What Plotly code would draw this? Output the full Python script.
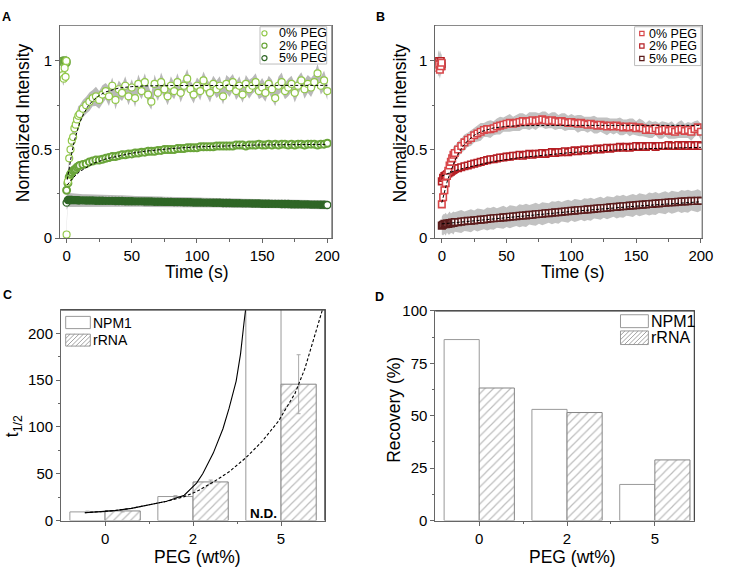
import plotly.graph_objects as go

W, H = 729, 578
FONT = "Arial, Liberation Sans, sans-serif"

# ---------------- Panel A / B : FRAP traces ----------------
t_pre = [-3.0, -2.2, -1.5, -0.8, -0.2]
t_post = [0, 1, 2, 3, 4, 5, 6, 7, 8, 9, 10,
          12.5, 15, 17.5, 20, 22.5, 25, 27.5, 30,
          32.5, 35, 37.5, 40, 42.5, 45, 47.5, 50,
          52.5, 55, 57.5, 60, 62.5, 65, 67.5, 70,
          72.5, 75, 77.5, 80, 82.5, 85, 87.5, 90,
          92.5, 95, 97.5, 100, 102.5, 105, 107.5, 110,
          112.5, 115, 117.5, 120, 122.5, 125, 127.5, 130,
          132.5, 135, 137.5, 140, 142.5, 145, 147.5, 150,
          152.5, 155, 157.5, 160, 162.5, 165, 167.5, 170,
          172.5, 175, 177.5, 180, 182.5, 185, 187.5, 190,
          192.5, 195, 197.5, 200]

# NPM1 (panel A), 0 % PEG
a0_pre = [0.92, 0.90, 0.96, 0.91, 1.00]
a0_post = [0.02, 0.32, 0.45, 0.50, 0.55, 0.57, 0.62, 0.64, 0.67, 0.69, 0.70,
           0.73, 0.75, 0.77, 0.79, 0.80, 0.78, 0.81, 0.83,
           0.80, 0.86, 0.78, 0.84, 0.82, 0.86, 0.80, 0.85,
           0.79, 0.87, 0.83, 0.88, 0.81, 0.77, 0.87, 0.82,
           0.88, 0.84, 0.80, 0.86, 0.83, 0.88, 0.82, 0.86,
           0.90, 0.84, 0.81, 0.86, 0.83, 0.89, 0.85, 0.82,
           0.87, 0.84, 0.86, 0.80, 0.87, 0.85, 0.88, 0.83,
           0.86, 0.81, 0.87, 0.84, 0.86, 0.88, 0.83, 0.85,
           0.82, 0.87, 0.84, 0.79, 0.86, 0.88, 0.83, 0.85,
           0.87, 0.82, 0.86, 0.89, 0.84, 0.87, 0.85, 0.88,
           0.93, 0.86, 0.89, 0.83]
a0_sd_pre = [0.05, 0.04, 0.05, 0.04, 0.05]
a0_sd_post = [0.02, 0.03, 0.035, 0.04, 0.045, 0.045, 0.05, 0.05, 0.05, 0.055, 0.05,
              0.05, 0.048, 0.052, 0.046, 0.054, 0.05, 0.052, 0.046,
              0.054, 0.046, 0.054, 0.05, 0.046, 0.054, 0.05, 0.046,
              0.052, 0.054, 0.046, 0.05, 0.054, 0.046, 0.054, 0.046,
              0.054, 0.046, 0.05, 0.054, 0.046, 0.05, 0.054, 0.046,
              0.054, 0.046, 0.05, 0.046, 0.054, 0.05, 0.046, 0.054,
              0.046, 0.05, 0.054, 0.046, 0.05, 0.054, 0.046, 0.05,
              0.054, 0.046, 0.05, 0.054, 0.046, 0.05, 0.046, 0.054,
              0.05, 0.046, 0.054, 0.046, 0.05, 0.054, 0.046, 0.05,
              0.046, 0.054, 0.05, 0.046, 0.054, 0.05, 0.054, 0.046,
              0.054, 0.05, 0.054, 0.05]

# NPM1, 2 % PEG
a2_pre = [1.00, 0.99, 1.00, 1.00, 0.99]
a2_post = [0.27, 0.31, 0.345, 0.36, 0.37, 0.38, 0.385, 0.39, 0.40, 0.405, 0.41,
           0.415, 0.42, 0.43, 0.435, 0.44, 0.44, 0.445, 0.45,
           0.455, 0.46, 0.46, 0.465, 0.47, 0.47, 0.475, 0.475,
           0.48, 0.48, 0.485, 0.485, 0.49, 0.49, 0.49, 0.495,
           0.495, 0.50, 0.50, 0.50, 0.50, 0.505, 0.505, 0.505,
           0.51, 0.51, 0.51, 0.51, 0.515, 0.515, 0.515, 0.515,
           0.515, 0.52, 0.52, 0.52, 0.52, 0.52, 0.52, 0.525,
           0.525, 0.525, 0.52, 0.525, 0.525, 0.525, 0.53, 0.525,
           0.525, 0.53, 0.525, 0.53, 0.525, 0.53, 0.53, 0.525,
           0.53, 0.525, 0.53, 0.53, 0.525, 0.53, 0.53, 0.53,
           0.525, 0.53, 0.53, 0.535]
a2_sd_pre = [0.02, 0.02, 0.02, 0.02, 0.02]
a2_sd_post = [0.01, 0.015, 0.015, 0.018, 0.02, 0.02, 0.02, 0.02, 0.02, 0.02, 0.02,
              0.02, 0.022, 0.02, 0.022, 0.02, 0.024, 0.02, 0.022,
              0.02, 0.024, 0.02, 0.022, 0.025, 0.02, 0.022, 0.02,
              0.024, 0.02, 0.022, 0.02, 0.025, 0.02, 0.022, 0.02,
              0.022, 0.025, 0.02, 0.022, 0.02, 0.024, 0.02, 0.022,
              0.02, 0.024, 0.02, 0.022, 0.02, 0.025, 0.02, 0.022,
              0.024, 0.02, 0.022, 0.02, 0.024, 0.02, 0.022, 0.02,
              0.022, 0.024, 0.02, 0.022, 0.02, 0.025, 0.02, 0.022,
              0.02, 0.022, 0.024, 0.02, 0.022, 0.02, 0.024, 0.02,
              0.024, 0.02, 0.022, 0.02, 0.025, 0.02, 0.022, 0.02,
              0.022, 0.02, 0.024, 0.02]

# NPM1, 5 % PEG
a5_pre = [1.00, 1.00, 0.99, 1.00, 1.00]
a5_post = [0.20, 0.215, 0.215, 0.215, 0.215, 0.214, 0.214, 0.214, 0.214, 0.213, 0.213,
           0.213, 0.212, 0.212, 0.212, 0.211, 0.211, 0.211, 0.210,
           0.210, 0.210, 0.209, 0.209, 0.209, 0.208, 0.208, 0.208,
           0.207, 0.207, 0.207, 0.206, 0.206, 0.206, 0.205, 0.205,
           0.205, 0.204, 0.204, 0.204, 0.203, 0.203, 0.203, 0.202,
           0.202, 0.202, 0.201, 0.201, 0.201, 0.200, 0.200, 0.200,
           0.199, 0.199, 0.199, 0.198, 0.198, 0.198, 0.197, 0.197,
           0.197, 0.196, 0.196, 0.196, 0.195, 0.195, 0.195, 0.194,
           0.194, 0.194, 0.193, 0.193, 0.193, 0.192, 0.192, 0.192,
           0.191, 0.191, 0.191, 0.190, 0.190, 0.190, 0.189, 0.189,
           0.189, 0.188, 0.188, 0.187]
a5_sd_pre = [0.02, 0.02, 0.02, 0.02, 0.02]
a5_sd_post = [0.04, 0.04, 0.039, 0.038, 0.038, 0.037, 0.037, 0.036, 0.036, 0.036, 0.035,
              0.035, 0.035, 0.034, 0.034, 0.034, 0.033, 0.033, 0.033,
              0.033, 0.032, 0.032, 0.032, 0.032, 0.031, 0.031, 0.031,
              0.031, 0.031, 0.030, 0.030, 0.030, 0.030, 0.030, 0.030,
              0.029, 0.029, 0.029, 0.029, 0.029, 0.029, 0.029, 0.028,
              0.028, 0.028, 0.028, 0.028, 0.028, 0.028, 0.028, 0.028,
              0.027, 0.027, 0.027, 0.027, 0.027, 0.027, 0.027, 0.027,
              0.027, 0.026, 0.026, 0.026, 0.026, 0.026, 0.026, 0.026,
              0.026, 0.026, 0.026, 0.025, 0.025, 0.025, 0.025, 0.025,
              0.025, 0.025, 0.025, 0.025, 0.025, 0.025, 0.025, 0.025,
              0.025, 0.025, 0.025, 0.025]

# rRNA (panel B), 0 % PEG
b0_pre = [0.96, 0.98, 0.95, 0.97, 0.99]
b0_post = [0.19, 0.23, 0.27, 0.31, 0.35, 0.38, 0.41, 0.43, 0.45, 0.47, 0.48,
           0.50, 0.52, 0.54, 0.555, 0.565, 0.58, 0.59, 0.60,
           0.61, 0.615, 0.615, 0.62, 0.63, 0.635, 0.64, 0.645,
           0.65, 0.645, 0.65, 0.655, 0.66, 0.655, 0.66, 0.665,
           0.66, 0.665, 0.67, 0.665, 0.66, 0.665, 0.66, 0.655,
           0.66, 0.655, 0.65, 0.655, 0.65, 0.645, 0.65, 0.645,
           0.64, 0.645, 0.64, 0.635, 0.64, 0.635, 0.63, 0.635,
           0.63, 0.635, 0.63, 0.625, 0.63, 0.625, 0.63, 0.62,
           0.625, 0.62, 0.61, 0.615, 0.61, 0.62, 0.605, 0.61,
           0.615, 0.605, 0.61, 0.60, 0.61, 0.615, 0.605, 0.61,
           0.60, 0.615, 0.625, 0.60]
b0_sd_pre = [0.05, 0.06, 0.05, 0.06, 0.05]
b0_sd_post = [0.02, 0.025, 0.03, 0.03, 0.035, 0.035, 0.04, 0.04, 0.04, 0.045, 0.04,
              0.045, 0.04, 0.045, 0.04, 0.045, 0.04, 0.045, 0.05,
              0.04, 0.045, 0.05, 0.04, 0.045, 0.05, 0.04, 0.045,
              0.05, 0.04, 0.045, 0.05, 0.045, 0.04, 0.05, 0.045,
              0.05, 0.04, 0.045, 0.05, 0.04, 0.045, 0.05, 0.04,
              0.045, 0.05, 0.04, 0.045, 0.04, 0.05, 0.045, 0.04,
              0.045, 0.04, 0.05, 0.045, 0.04, 0.045, 0.05, 0.04,
              0.045, 0.04, 0.05, 0.045, 0.04, 0.05, 0.045, 0.04,
              0.05, 0.045, 0.04, 0.05, 0.045, 0.04, 0.045, 0.05,
              0.04, 0.045, 0.05, 0.04, 0.045, 0.05, 0.04, 0.045,
              0.05, 0.045, 0.04, 0.045]

# rRNA, 2 % PEG
b2_pre = [0.99, 1.00, 0.98, 1.00, 0.97]
b2_post = [0.32, 0.34, 0.35, 0.355, 0.36, 0.365, 0.37, 0.375, 0.38, 0.385, 0.39,
           0.395, 0.40, 0.405, 0.41, 0.415, 0.42, 0.425, 0.43,
           0.435, 0.44, 0.445, 0.445, 0.45, 0.455, 0.455, 0.46,
           0.46, 0.465, 0.465, 0.47, 0.465, 0.47, 0.475, 0.47,
           0.475, 0.475, 0.48, 0.475, 0.48, 0.485, 0.48, 0.485,
           0.485, 0.49, 0.485, 0.49, 0.495, 0.49, 0.495, 0.50,
           0.495, 0.50, 0.50, 0.505, 0.50, 0.505, 0.51, 0.505,
           0.51, 0.51, 0.515, 0.51, 0.515, 0.51, 0.515, 0.52,
           0.515, 0.52, 0.515, 0.52, 0.52, 0.515, 0.52, 0.52,
           0.52, 0.525, 0.52, 0.52, 0.525, 0.52, 0.525, 0.52,
           0.525, 0.52, 0.525, 0.52]
b2_sd_pre = [0.05, 0.06, 0.05, 0.06, 0.05]
b2_sd_post = [0.015, 0.015, 0.015, 0.016, 0.016, 0.017, 0.017, 0.018, 0.018, 0.018, 0.018,
              0.018, 0.02, 0.018, 0.02, 0.018, 0.02, 0.018, 0.02,
              0.018, 0.02, 0.022, 0.018, 0.02, 0.018, 0.022, 0.02,
              0.018, 0.02, 0.022, 0.018, 0.02, 0.018, 0.022, 0.02,
              0.018, 0.022, 0.02, 0.018, 0.02, 0.022, 0.018, 0.02,
              0.022, 0.018, 0.02, 0.018, 0.022, 0.02, 0.018, 0.02,
              0.018, 0.022, 0.02, 0.018, 0.02, 0.022, 0.018, 0.02,
              0.02, 0.018, 0.022, 0.02, 0.018, 0.02, 0.022, 0.018,
              0.02, 0.022, 0.018, 0.02, 0.018, 0.022, 0.02, 0.018,
              0.022, 0.02, 0.018, 0.02, 0.022, 0.018, 0.02, 0.022,
              0.018, 0.02, 0.022, 0.02]

# rRNA, 5 % PEG
b5_pre = [0.98, 1.00, 0.99, 0.98, 0.985]
b5_post = [0.07, 0.075, 0.08, 0.078, 0.082, 0.08, 0.085, 0.083, 0.087, 0.085, 0.09,
           0.09, 0.093, 0.095, 0.097, 0.098, 0.10, 0.102, 0.104,
           0.105, 0.108, 0.11, 0.112, 0.113, 0.115, 0.117, 0.118,
           0.12, 0.122, 0.123, 0.126, 0.127, 0.128, 0.131, 0.132,
           0.134, 0.136, 0.137, 0.14, 0.141, 0.143, 0.145, 0.146,
           0.148, 0.15, 0.151, 0.154, 0.155, 0.157, 0.158, 0.16,
           0.162, 0.163, 0.165, 0.167, 0.168, 0.17, 0.171, 0.173,
           0.175, 0.176, 0.178, 0.18, 0.181, 0.183, 0.184, 0.186,
           0.188, 0.189, 0.19, 0.192, 0.193, 0.195, 0.196, 0.198,
           0.199, 0.201, 0.202, 0.203, 0.205, 0.206, 0.207, 0.208,
           0.21, 0.209, 0.211, 0.21]
b5_sd_pre = [0.05, 0.06, 0.05, 0.06, 0.05]
b5_sd_post = [0.05, 0.06, 0.055, 0.065, 0.05, 0.06, 0.065, 0.055, 0.06, 0.065, 0.055,
              0.06, 0.065, 0.055, 0.06, 0.065, 0.055, 0.065, 0.06,
              0.055, 0.065, 0.06, 0.065, 0.055, 0.06, 0.065, 0.055,
              0.065, 0.06, 0.055, 0.065, 0.06, 0.065, 0.055, 0.06,
              0.065, 0.055, 0.065, 0.06, 0.055, 0.065, 0.06, 0.065,
              0.055, 0.06, 0.065, 0.055, 0.065, 0.06, 0.055, 0.065,
              0.06, 0.065, 0.055, 0.06, 0.065, 0.055, 0.065, 0.06,
              0.055, 0.065, 0.06, 0.065, 0.055, 0.06, 0.065, 0.055,
              0.065, 0.06, 0.055, 0.065, 0.06, 0.065, 0.055, 0.06,
              0.065, 0.055, 0.065, 0.06, 0.055, 0.065, 0.06, 0.065,
              0.055, 0.06, 0.065, 0.055]

# exponential fits (sampled curves)
a0_fit_t = [0.5, 2, 4, 6, 8, 10, 13, 16, 20, 25, 30, 35, 40, 50, 60, 80, 120, 200]
a0_fit_y = [0.33, 0.40, 0.48, 0.55, 0.60, 0.65, 0.70, 0.74, 0.775, 0.805, 0.825,
            0.838, 0.847, 0.855, 0.859, 0.861, 0.862, 0.862]
a2_fit_t = [0.5, 2, 5, 10, 15, 20, 30, 40, 50, 60, 80, 100, 120, 150, 200]
a2_fit_y = [0.30, 0.315, 0.34, 0.375, 0.40, 0.42, 0.447, 0.465, 0.479, 0.49,
            0.505, 0.515, 0.521, 0.526, 0.529]
b0_fit_t = [0, 2, 4, 6, 8, 10, 13, 16, 20, 25, 30, 40, 50, 60, 80, 120, 200]
b0_fit_y = [0.20, 0.26, 0.315, 0.36, 0.40, 0.435, 0.48, 0.515, 0.55, 0.58, 0.60,
            0.622, 0.63, 0.634, 0.636, 0.636, 0.636]
b2_fit_t = [0, 5, 10, 20, 30, 40, 60, 80, 100, 130, 160, 200]
b2_fit_y = [0.35, 0.365, 0.38, 0.40, 0.418, 0.432, 0.454, 0.47, 0.483, 0.496,
            0.505, 0.512]
b5_fit_t = [0, 50, 100, 150, 200]
b5_fit_y = [0.08, 0.115, 0.15, 0.18, 0.205]

series_labels = ["0% PEG", "2% PEG", "5% PEG"]
green_colors = ["#92c84a", "#6aa53a", "#2f6626"]
red_colors = ["#d8474a", "#b51f24", "#5b1c1c"]

# ---------------- Panel C / D : bars ----------------
peg_labels = ["0", "2", "5"]
peg_pos = [0, 1, 2]
npm1_thalf = [9.2, 25.6, 1000.0]     # 5 % PEG: N.D. (bar runs off scale)
npm1_thalf_err = [0.8, 1.0, 0.0]
rrna_thalf = [10.2, 41.2, 145.6]
rrna_thalf_err = [1.0, 2.0, 31.5]

npm1_fit_x = [-0.23, -0.08, 0.1, 0.3, 0.5, 0.7, 0.9, 1.04, 1.11, 1.23, 1.34, 1.41,
              1.49, 1.54, 1.58, 1.61]
npm1_fit_y = [8.3, 9.0, 10.5, 13, 16.5, 20.5, 27, 40, 50, 72, 98, 120, 149, 178, 212, 235]
rrna_fit_x = [-0.23, -0.08, 0.1, 0.3, 0.5, 0.7, 0.9, 1.04, 1.23, 1.41, 1.6, 1.78,
              1.97, 2.16, 2.27, 2.38, 2.47]
rrna_fit_y = [8.3, 9.0, 10.5, 13, 16.5, 20.5, 25.5, 31, 41, 52, 67, 84, 106, 136,
              162, 196, 225]

npm1_recovery = [86.3, 53.0, 17.2]
rrna_recovery = [63.2, 51.5, 28.9]

# axis ranges
rngA_x, rngA_y = [-5, 203.5], [0, 1.2]
rngB_x, rngB_y = [-5, 201], [0, 1.2]
rngC_x, rngC_y = [-0.5, 2.5], [0, 225]
rngD_x, rngD_y = [-0.5, 2.45], [0, 100]

# ------------------------------------------------------------------
for arr in [a0_post, a0_sd_post, a2_post, a2_sd_post, a5_post, a5_sd_post,
            b0_post, b0_sd_post, b2_post, b2_sd_post, b5_post, b5_sd_post]:
    assert len(arr) == len(t_post), len(arr)


def pxx(x):
    return x / W


def pxy(y):
    return 1 - y / H


fig = go.Figure()

t_all = t_pre + t_post
panelA = [(a0_pre + a0_post, a0_sd_pre + a0_sd_post),
          (a2_pre + a2_post, a2_sd_pre + a2_sd_post),
          (a5_pre + a5_post, a5_sd_pre + a5_sd_post)]
panelB = [(b0_pre + b0_post, b0_sd_pre + b0_sd_post),
          (b2_pre + b2_post, b2_sd_pre + b2_sd_post),
          (b5_pre + b5_post, b5_sd_pre + b5_sd_post)]


def add_band(vals, sds, xa, ya, color):
    up = [v + s for v, s in zip(vals, sds)]
    lo = [v - s for v, s in zip(vals, sds)]
    fig.add_trace(go.Scatter(x=t_all + t_all[::-1], y=up + lo[::-1], fill="toself",
                             fillcolor=color, line=dict(width=0, color=color),
                             mode="lines", hoverinfo="skip", showlegend=False,
                             xaxis=xa, yaxis=ya))


for vals, sds in panelA:
    add_band(vals, sds, "x", "y", "#b9b9b9")
for vals, sds in panelB:
    add_band(vals, sds, "x2", "y2", "#c2c2c2")

n_all = len(t_all)
# the 5 % NPM1 trace is so dense that the open circles merge into a solid band;
# only the first post-bleach and the last point show their white face.
fill_a = [["white"] * n_all,
          ["white"] * n_all,
          ["#2f6626"] * n_all]
fill_a[2][len(t_pre)] = "white"
fill_a[2][-1] = "white"
lw_a = [1.2, 2.0, 1.4]
for i in [2, 1, 0]:
    vals = panelA[i][0]
    fig.add_trace(go.Scatter(x=t_all, y=vals, mode="markers", name=series_labels[i],
                             marker=dict(symbol="circle", size=7, color=fill_a[i],
                                         line=dict(color=green_colors[i], width=lw_a[i])),
                             showlegend=False, xaxis="x", yaxis="y"))
for i in [2, 1, 0]:
    vals = panelB[i][0]
    fig.add_trace(go.Scatter(x=t_all, y=vals, mode="markers", name=series_labels[i],
                             marker=dict(symbol="square", size=6.5, color="white",
                                         line=dict(color=red_colors[i], width=1.6)),
                             showlegend=False, xaxis="x2", yaxis="y2"))

fit_line = dict(color="black", width=1, dash="3px,2px")
for ft, fy, xa, ya in [(a0_fit_t, a0_fit_y, "x", "y"), (a2_fit_t, a2_fit_y, "x", "y"),
                       (b0_fit_t, b0_fit_y, "x2", "y2"), (b2_fit_t, b2_fit_y, "x2", "y2"),
                       (b5_fit_t, b5_fit_y, "x2", "y2")]:
    fig.add_trace(go.Scatter(x=ft, y=fy, mode="lines", line=fit_line, showlegend=False,
                             hoverinfo="skip", xaxis=xa, yaxis=ya))

# bars
hatch = dict(shape="/", fgcolor="#7c7c7c", bgcolor="white", size=6, solidity=0.2)
for xa, ya, n_vals, r_vals, n_err, r_err in [
        ("x3", "y3", npm1_thalf, rrna_thalf, npm1_thalf_err, rrna_thalf_err),
        ("x4", "y4", npm1_recovery, rrna_recovery, None, None)]:
    fig.add_trace(go.Bar(x=peg_pos, y=n_vals, width=0.4, offset=-0.4, name="NPM1",
                         marker=dict(color="white", line=dict(color="#999999", width=1)),
                         error_y=(dict(type="data", array=n_err, color="#aaaaaa",
                                       thickness=1, width=2) if n_err else None),
                         showlegend=False, xaxis=xa, yaxis=ya))
    fig.add_trace(go.Bar(x=peg_pos, y=r_vals, width=0.4, offset=0.0, name="rRNA",
                         marker=dict(color="white", pattern=hatch,
                                     line=dict(color="#858585", width=1)),
                         error_y=(dict(type="data", array=r_err, color="#aaaaaa",
                                       thickness=1, width=2) if r_err else None),
                         showlegend=False, xaxis=xa, yaxis=ya))

fig.add_trace(go.Scatter(x=npm1_fit_x, y=npm1_fit_y, mode="lines",
                         line=dict(color="black", width=1.1), showlegend=False,
                         hoverinfo="skip", xaxis="x3", yaxis="y3"))
fig.add_trace(go.Scatter(x=rrna_fit_x, y=rrna_fit_y, mode="lines",
                         line=dict(color="black", width=1.1, dash="3px,2px"),
                         showlegend=False, hoverinfo="skip", xaxis="x3", yaxis="y3"))

# top / right frame of each panel, drawn along the axis limits
for xa, ya, rx, ry, col in [("x", "y", rngA_x, rngA_y, "#8a8a8a"),
                            ("x2", "y2", rngB_x, rngB_y, "#8a8a8a"),
                            ("x3", "y3", rngC_x, rngC_y, "#444444"),
                            ("x4", "y4", rngD_x, rngD_y, "#444444")]:
    fig.add_trace(go.Scatter(x=[rx[0], rx[1], rx[1]], y=[ry[1], ry[1], ry[0]],
                             mode="lines", line=dict(color=col, width=1),
                             cliponaxis=False, hoverinfo="skip", showlegend=False,
                             xaxis=xa, yaxis=ya))

# ---------------- axes ----------------
AX = "#666666"
tickfont = dict(family=FONT, size=15, color="black")


def axis(domain, rng, anchor, **kw):
    d = dict(domain=domain, range=rng, anchor=anchor, showline=True, linecolor=AX,
             linewidth=1, mirror=True, ticks="outside", ticklen=4, tickcolor=AX,
             tickwidth=1, tickfont=tickfont, showgrid=False, zeroline=False)
    d.update(kw)
    return d


dAx = [pxx(61), pxx(337)]
dBx = [pxx(442), pxx(713)]
dCx = [pxx(62), pxx(330)]
dDx = [pxx(442), pxx(705)]
dABy = [pxy(236), pxy(17)]
dCy = [pxy(527), pxy(310)]
dDy = [pxy(527), pxy(311)]

minor_t = dict(ticks="outside", ticklen=2.5, dtick=25, tickcolor=AX)
fig.update_layout(
    xaxis=axis(dAx, rngA_x, "y", tickvals=[0, 50, 100, 150, 200], minor=minor_t),
    yaxis=axis(dABy, rngA_y, "x", tickvals=[0, 0.5, 1],
               ticktext=["0", "0.5", "1"],
               minor=dict(ticks="outside", ticklen=2.5, tickmode="array",
                          tickvals=[0.25, 0.75], tickcolor=AX)),
    xaxis2=axis(dBx, rngB_x, "y2", tickvals=[0, 50, 100, 150, 200], minor=minor_t),
    yaxis2=axis(dABy, rngB_y, "x2", tickvals=[0, 0.5, 1],
                ticktext=["0", "0.5", "1"],
                minor=dict(ticks="outside", ticklen=2.5, tickmode="array",
                           tickvals=[0.25, 0.75], tickcolor=AX)),
    xaxis3=axis(dCx, rngC_x, "y3", tickvals=peg_pos, ticktext=peg_labels,
                minor=dict(ticks="outside", ticklen=2.5, tickmode="array",
                           tickvals=[0.5, 1.5], tickcolor=AX)),
    yaxis3=axis(dCy, rngC_y, "x3", tickvals=[0, 50, 100, 150, 200],
                minor=dict(ticks="outside", ticklen=2.5, tickmode="array",
                           tickvals=[25, 75, 125, 175], tickcolor=AX)),
    xaxis4=axis(dDx, rngD_x, "y4", tickvals=peg_pos, ticktext=peg_labels,
                minor=dict(ticks="outside", ticklen=2.5, tickmode="array",
                           tickvals=[0.5, 1.5], tickcolor=AX)),
    yaxis4=axis(dDy, rngD_y, "x4", tickvals=[0, 25, 50, 75, 100],
                minor=dict(ticks="outside", ticklen=2.5, tickmode="array",
                           tickvals=[12.5, 37.5, 62.5, 87.5], tickcolor=AX)),
)

# ---------------- annotations: titles & panel letters ----------------
ann = []


def text(x, y, s, size, angle=0, xanchor="center", yanchor="middle"):
    ann.append(dict(x=pxx(x), y=pxy(y), xref="paper", yref="paper", text=s,
                    showarrow=False, textangle=angle, xanchor=xanchor, yanchor=yanchor,
                    font=dict(family=FONT, size=size, color="black"),
                    borderpad=0))


TS = 17.5
text(23, 117, "Normalized Intensity", TS, angle=-90)
text(200, 271, "Time (s)", TS)
text(406, 117, "Normalized Intensity", TS, angle=-90)
text(582, 271, "Time (s)", TS)
text(14, 430, "t<sub>1/2</sub>", TS, angle=-90)
text(201, 565, "PEG (wt%)", TS)
text(400, 413, "Recovery (%)", TS, angle=-90)
text(581, 565, "PEG (wt%)", TS)
for letter, x, y in [("A", 6.7, 8.7), ("B", 386, 8.7), ("C", 7.5, 295), ("D", 385.5, 296.5)]:
    text(x, y, "<b>%s</b>" % letter, 12.5)

ann.append(dict(x=1.8, y=8, xref="x3", yref="y3", text="<b>N.D.</b>", showarrow=False,
                font=dict(family=FONT, size=13.5, color="black"), borderpad=0))

# ---------------- frames + hand-built legends ----------------
shapes = []
for dx, dy, col in [(dAx, dABy, "#8a8a8a"), (dBx, dABy, "#8a8a8a"),
                    (dCx, dCy, "#444444"), (dDx, dDy, "#444444")]:
    for (xa0, ya0, xa1, ya1) in [(dx[0], dy[1], dx[1], dy[1]),   # top
                                 (dx[1], dy[0], dx[1], dy[1])]:  # right
        shapes.append(dict(type="line", xref="paper", yref="paper",
                           x0=xa0, y0=ya0, x1=xa1, y1=ya1,
                           line=dict(color=col, width=1), layer="above"))


def rect(x0, y0, x1, y1, line="#bdbdbd", fill="white", lw=1):
    shapes.append(dict(type="rect", xref="paper", yref="paper", x0=pxx(x0), x1=pxx(x1),
                       y0=pxy(y1), y1=pxy(y0), line=dict(color=line, width=lw),
                       fillcolor=fill, layer="above"))


def hatch_rect(x0, y0, x1, y1, step=4.5):
    c = x0 + y0 + step
    while c < x1 + y1:
        xa, xb = max(x0, c - y1), min(x1, c - y0)
        if xb > xa:
            shapes.append(dict(type="line", xref="paper", yref="paper",
                               x0=pxx(xa), y0=pxy(c - xa), x1=pxx(xb), y1=pxy(c - xb),
                               line=dict(color="#8a8a8a", width=0.8), layer="above"))
        c += step


# Legend A
rect(264, 18.3, 331.7, 56.7)
rowsA = [25.0, 37.8, 50.6]
for i in range(3):
    cx, cy, r = 268.5, rowsA[i], 2.6
    shapes.append(dict(type="circle", xref="paper", yref="paper", x0=pxx(cx - r),
                       x1=pxx(cx + r), y0=pxy(cy + r), y1=pxy(cy - r),
                       line=dict(color=green_colors[i], width=1.2), fillcolor="white",
                       layer="above"))
    text(282.5, cy, series_labels[i], 12.5, xanchor="left")

# Legend B
rect(644.3, 18.3, 711.7, 58.3)
rowsB = [25.3, 38.2, 51.0]
for i in range(3):
    cx, cy, r = 651.7, rowsB[i], 2.2
    shapes.append(dict(type="rect", xref="paper", yref="paper", x0=pxx(cx - r),
                       x1=pxx(cx + r), y0=pxy(cy + r), y1=pxy(cy - r),
                       line=dict(color=red_colors[i], width=1.2), fillcolor="white",
                       layer="above"))
    text(658.3, cy, series_labels[i], 12.5, xanchor="left")

# Legend C
rect(66.7, 316.7, 91.7, 329.3, line="#999999")
rect(66.7, 335.0, 91.7, 347.3, line="#999999")
hatch_rect(66.7, 335.0, 91.7, 347.3)
text(93.5, 323, "NPM1", 14, xanchor="left")
text(93.5, 341.2, "rRNA", 14, xanchor="left")

# Legend D
rect(630, 315, 658.3, 328.3, line="#999999")
rect(630, 331.7, 658.3, 345.7, line="#999999")
hatch_rect(630, 331.7, 658.3, 345.7)
text(660, 321.7, "NPM1", 16, xanchor="left")
text(660, 338.7, "rRNA", 16, xanchor="left")

fig.update_layout(width=W, height=H, margin=dict(l=0, r=0, t=0, b=0),
                  paper_bgcolor="white", plot_bgcolor="white", showlegend=False,
                  font=dict(family=FONT, color="black"), annotations=ann, shapes=shapes,
                  barmode="overlay")

fig.write_html("out.html", config={"displayModeBar": False},
               post_script="document.body.style.margin='0px';"
                           "document.body.style.overflow='hidden';")
